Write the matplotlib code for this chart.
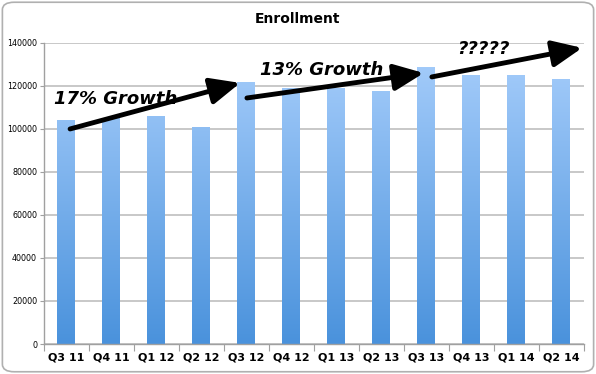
import numpy as np
import matplotlib.pyplot as plt
from matplotlib.patches import FancyBboxPatch
from matplotlib.colors import LinearSegmentedColormap

quarters = ["Q3 11", "Q4 11", "Q1 12", "Q2 12", "Q3 12", "Q4 12",
            "Q1 13", "Q2 13", "Q3 13", "Q4 13", "Q1 14", "Q2 14"]
enrollment = [104000, 105000, 106000, 101000, 121800, 119000,
              119000, 117700, 128600, 125000, 125000, 123300]
yticks = [0, 20000, 40000, 60000, 80000, 100000, 120000, 140000]

# arrows (x in category index, y in enrollment units)
arrow_tails = [(0.08, 100000), (4.01, 114400), (8.12, 124200)]
arrow_heads = [(3.86, 121400), (7.94, 126000), (11.46, 137700)]
notes = ["17% Growth", "13% Growth", "?????"]
note_pos = [(1.1, 114000), (5.68, 127500), (9.26, 137200)]

fig = plt.figure(figsize=(5.96, 3.74), dpi=100)
ax = fig.add_axes([0.0738, 0.0802, 0.906, 0.805])

border = FancyBboxPatch((0.004, 0.006), 0.992, 0.988, boxstyle="round,pad=0,rounding_size=0.02",
                        transform=fig.transFigure, facecolor="none", edgecolor="#b0b0b0",
                        linewidth=1.2)
fig.patches.append(border)

x = np.arange(len(quarters))
bars = ax.bar(x, enrollment, width=0.4, color="none", zorder=2)

cmap = LinearSegmentedColormap.from_list("blue", ["#4a92dc", "#a9cffc"])
grad = np.linspace(0, 1, 256).reshape(-1, 1)
for b in bars:
    im = ax.imshow(grad, cmap=cmap, origin="lower", aspect="auto",
                   extent=[b.get_x(), b.get_x() + b.get_width(), 0, 140000], zorder=2)
    im.set_clip_path(b)

ax.set_xlim(-0.5, len(quarters) - 0.5)
ax.set_ylim(0, 140000)
ax.set_yticks(yticks)
ax.set_yticklabels([str(v) for v in yticks], fontsize=5.8)
ax.yaxis.grid(True, color="#c4c4c4", linewidth=1.3, zorder=0)
ax.set_axisbelow(True)

ax.set_xticks(np.arange(len(quarters) + 1) - 0.5)
ax.set_xticklabels([])
ax.set_xticks(x, minor=True)
ax.set_xticklabels(quarters, minor=True, fontsize=8, fontweight="bold")
ax.tick_params(axis="x", which="major", length=5, color="#a0a0a0", direction="out")
ax.tick_params(axis="x", which="minor", length=0, pad=6)
ax.tick_params(axis="y", length=3, color="#a0a0a0", pad=2)

for side in ["top", "right"]:
    ax.spines[side].set_visible(False)
for side in ["left", "bottom"]:
    ax.spines[side].set_color("#a0a0a0")
    ax.spines[side].set_linewidth(1.0)

fig.text(0.5, 0.949, "Enrollment", fontsize=10, fontweight="bold", ha="center", va="center")

for tail, head in zip(arrow_tails, arrow_heads):
    ax.annotate("", xy=head, xytext=tail, annotation_clip=False,
                arrowprops=dict(arrowstyle="-|>,head_length=1.8,head_width=0.8",
                                color="black", linewidth=3.5, shrinkA=0, shrinkB=0),
                zorder=5)

for txt, pos in zip(notes, note_pos):
    ax.text(pos[0], pos[1], txt, fontsize=13, fontweight="bold", fontstyle="italic",
            ha="center", va="center", zorder=6)

fig.savefig("out.png", dpi=100)
